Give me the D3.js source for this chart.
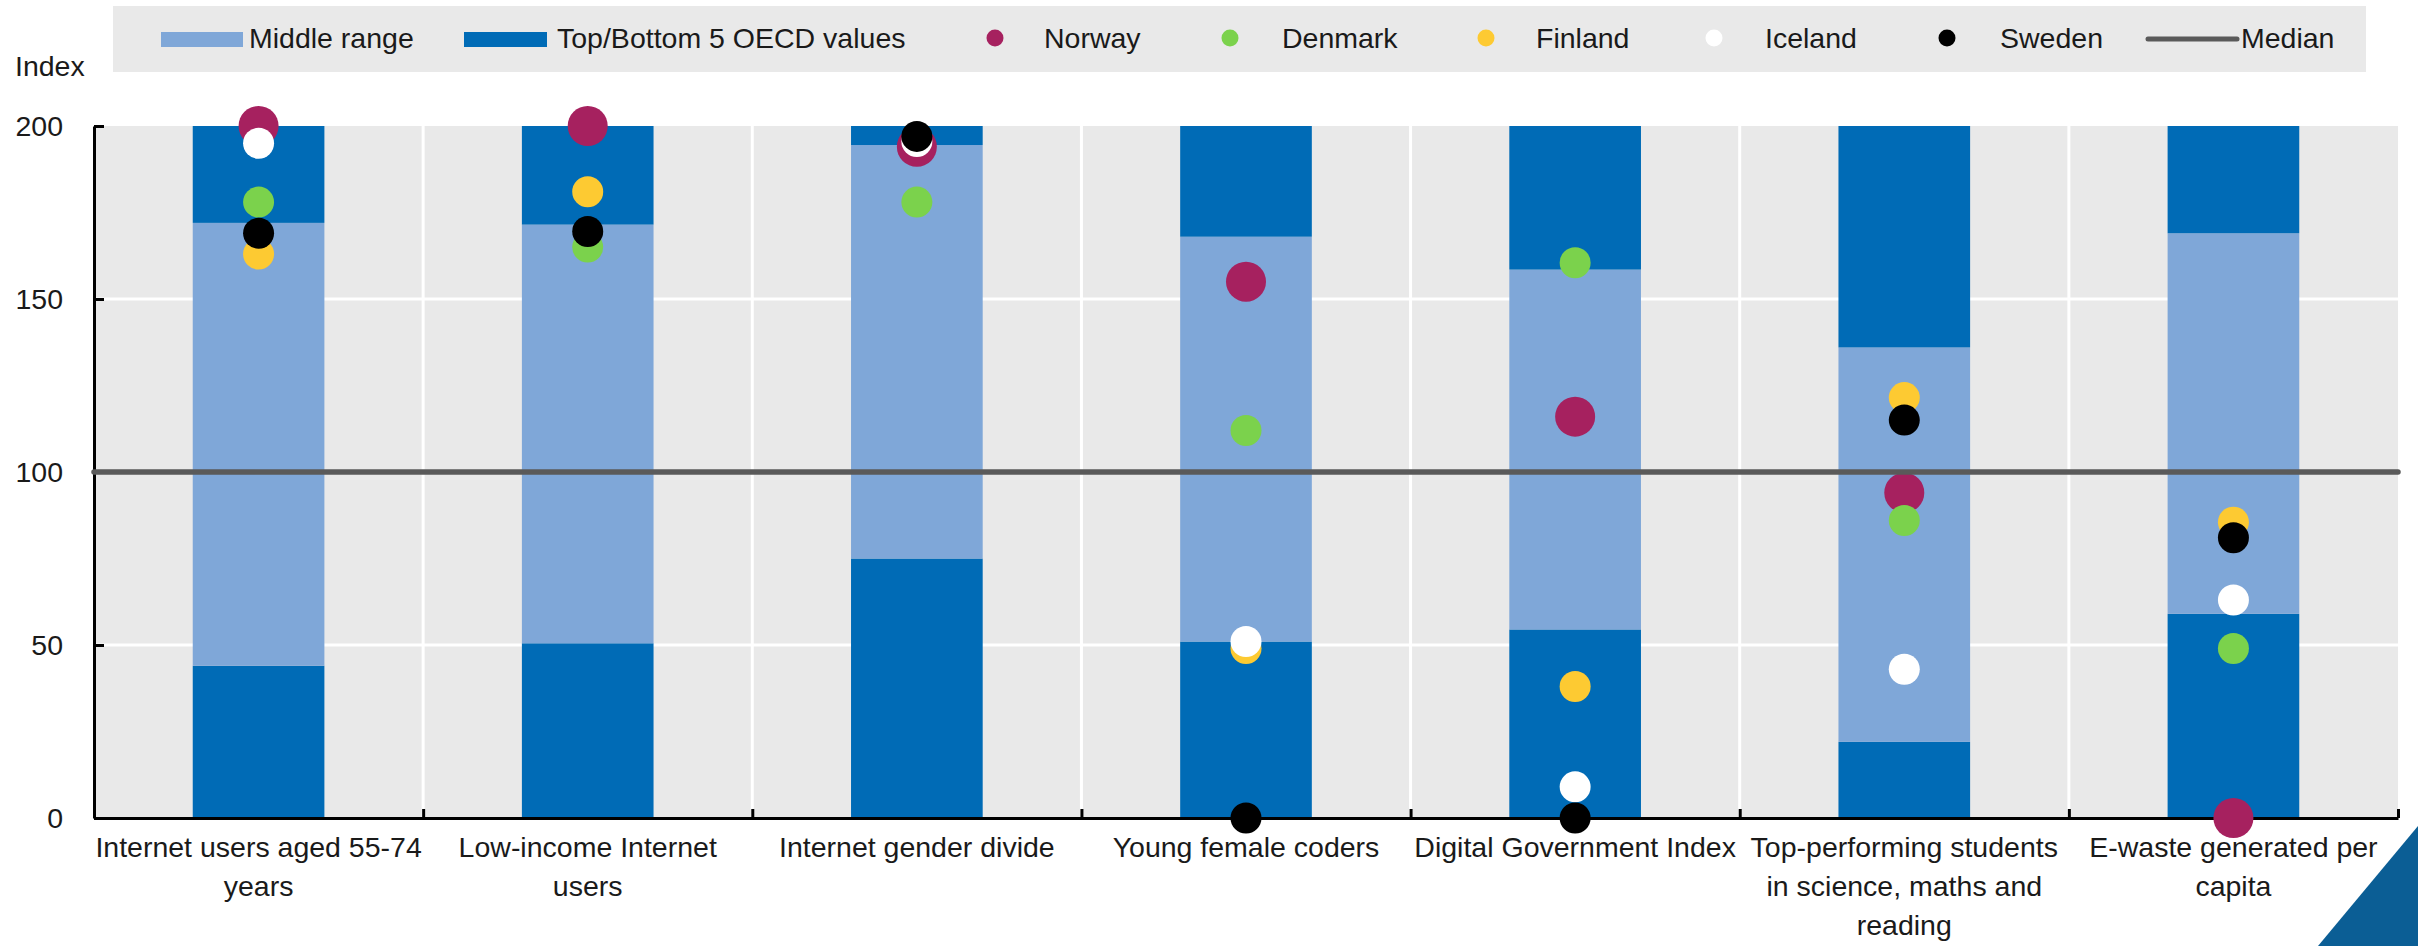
<!DOCTYPE html>
<html>
<head>
<meta charset="utf-8">
<script src="https://cdn.jsdelivr.net/npm/d3@7"></script>
<style>
  body { margin: 0; background: #fff; }
  svg { display: block; font-family: "Liberation Sans", Arial, sans-serif; }
</style>
</head>
<body>
<script>
// indicator labels, already split into lines as in the original
const categories = [
  ["Internet users aged 55-74", "years"],
  ["Low-income Internet", "users"],
  ["Internet gender divide"],
  ["Young female coders"],
  ["Digital Government Index"],
  ["Top-performing students", "in science, maths and", "reading"],
  ["E-waste generated per", "capita"]
];
// bottom 5 / top 5 thresholds (index, median = 100)
const lower = [44, 50.5, 75, 51, 54.5, 22, 59];
const upper = [172, 171.5, 194.5, 168, 158.5, 136, 169];
const topValue = 200;
const median = 100;

// country values (null = not shown)
const norway  = [200, 200, 194, 155, 116, 94, 0];
const denmark = [178, 165, 178, 112, 160.5, 86, 49];
const finland = [163, 181, null, 49, 38, 121.5, 85.5];
const iceland = [195, null, 195.5, 51, 9, 43, 63];
const sweden  = [169, 169.5, 197, 0, 0, 115, 81];

const yTicks = [0, 50, 100, 150, 200];

const countries = [
  {name: "Norway",  values: norway,  color: "#a6215f", r: 20},
  {name: "Denmark", values: denmark, color: "#7bd24c", r: 15.5},
  {name: "Finland", values: finland, color: "#fdca32", r: 15.5},
  {name: "Iceland", values: iceland, color: "#ffffff", r: 15.5},
  {name: "Sweden",  values: sweden,  color: "#000000", r: 15.5}
];

const light = "#7fa7d8", dark = "#006bb6", grey = "#e9e9e9", medianColor = "#5a5a5a";
const width = 2418, height = 946;
const fontSize = 28.5;

const svg = d3.select("body").append("svg")
    .attr("width", width)
    .attr("height", height);

const x = d3.scaleBand().domain(d3.range(categories.length)).range([94, 2398]);
const y = d3.scaleLinear().domain([0, 200]).range([818, 126]);
const xb = d3.scaleLinear().domain([0, categories.length]).range(x.range()); // band edges
const bw = x.bandwidth() * 0.4;

// plot background
svg.append("rect")
    .attr("x", x.range()[0]).attr("y", y(200))
    .attr("width", x.range()[1] - x.range()[0]).attr("height", y(0) - y(200))
    .attr("fill", grey);

// white grid
svg.append("g")
  .selectAll("line")
  .data([50, 150])
  .join("line")
    .attr("x1", x.range()[0]).attr("x2", x.range()[1])
    .attr("y1", d => y(d)).attr("y2", d => y(d))
    .attr("stroke", "#fff").attr("stroke-width", 3);

svg.append("g")
  .selectAll("line")
  .data(d3.range(1, categories.length))
  .join("line")
    .attr("x1", d => xb(d)).attr("x2", d => xb(d))
    .attr("y1", y(200)).attr("y2", y(0))
    .attr("stroke", "#fff").attr("stroke-width", 3);

// stacked bars: bottom 5, middle range, top 5
const segments = categories.flatMap((c, i) => [
  {i, from: 0, to: lower[i], color: dark},
  {i, from: lower[i], to: upper[i], color: light},
  {i, from: upper[i], to: topValue, color: dark}
]);

svg.append("g")
  .selectAll("rect")
  .data(segments)
  .join("rect")
    .attr("x", d => x(d.i) + (x.bandwidth() - bw) / 2)
    .attr("width", bw)
    .attr("y", d => y(d.to))
    .attr("height", d => y(d.from) - y(d.to))
    .attr("fill", d => d.color);

// axes
const yAxis = svg.append("g")
    .attr("transform", `translate(${x.range()[0]},0)`)
    .call(d3.axisLeft(y).tickValues(yTicks).tickSize(-10).tickSizeOuter(0).tickPadding(31));

const xAxis = svg.append("g")
    .attr("transform", `translate(0,${y(0)})`)
    .call(d3.axisBottom(xb).tickValues(d3.range(categories.length + 1)).tickSize(-9).tickSizeOuter(0).tickFormat(""));

[yAxis, xAxis].forEach(g => {
  g.selectAll("path, line").attr("stroke", "#000").attr("stroke-width", 3);
  g.selectAll("text")
      .attr("font-size", fontSize)
      .attr("font-family", "Liberation Sans, Arial, sans-serif")
      .attr("fill", "#1a1a1a");
});

// category labels
svg.append("g")
  .selectAll("text")
  .data(categories)
  .join("text")
    .attr("text-anchor", "middle")
    .attr("font-size", fontSize)
    .attr("fill", "#1a1a1a")
  .selectAll("tspan")
  .data((d, i) => d.map((line, k) => ({line, k, i})))
  .join("tspan")
    .attr("x", d => x(d.i) + x.bandwidth() / 2)
    .attr("y", d => 857 + d.k * 39)
    .text(d => d.line);

// country dots
svg.append("g")
  .selectAll("g")
  .data(countries)
  .join("g")
    .attr("fill", d => d.color)
  .selectAll("circle")
  .data(d => d.values.map((v, i) => ({v, i, r: d.r})).filter(p => p.v != null))
  .join("circle")
    .attr("cx", d => x(d.i) + x.bandwidth() / 2)
    .attr("cy", d => y(d.v))
    .attr("r", d => d.r);

// median line
svg.append("line")
    .attr("x1", x.range()[0]).attr("x2", x.range()[1])
    .attr("y1", y(median)).attr("y2", y(median))
    .attr("stroke", medianColor).attr("stroke-width", 5.5)
    .attr("stroke-linecap", "round");

// y title
svg.append("text")
    .attr("x", 15).attr("y", 76)
    .attr("font-size", fontSize)
    .attr("fill", "#1a1a1a")
    .text("Index");

// legend
const legend = svg.append("g");
legend.append("rect")
    .attr("x", 113).attr("y", 6).attr("width", 2366 - 113).attr("height", 66)
    .attr("fill", grey);

const legendItems = [
  {type: "rect", label: "Middle range", color: light, x0: 161, x1: 243, tx: 249},
  {type: "rect", label: "Top/Bottom 5 OECD values", color: dark, x0: 464, x1: 547, tx: 557},
  ...countries.map((c, k) => ({type: "dot", label: c.name, color: c.color,
      x0: [995, 1230, 1486, 1714, 1947][k], tx: [1044, 1282, 1536, 1765, 2000][k]})),
  {type: "line", label: "Median", color: medianColor, x0: 2148, x1: 2237, tx: 2241}
];

const li = legend.selectAll("g.item")
  .data(legendItems)
  .join("g")
    .attr("class", "item");

li.filter(d => d.type === "rect").append("rect")
    .attr("x", d => d.x0).attr("width", d => d.x1 - d.x0)
    .attr("y", 32).attr("height", 15)
    .attr("fill", d => d.color);

li.filter(d => d.type === "dot").append("circle")
    .attr("cx", d => d.x0).attr("cy", 38).attr("r", 8.5)
    .attr("fill", d => d.color);

li.filter(d => d.type === "line").append("line")
    .attr("x1", d => d.x0).attr("x2", d => d.x1)
    .attr("y1", 39).attr("y2", 39)
    .attr("stroke", d => d.color).attr("stroke-width", 5)
    .attr("stroke-linecap", "round");

li.append("text")
    .attr("x", d => d.tx).attr("y", 48)
    .attr("font-size", fontSize)
    .attr("fill", "#1a1a1a")
    .text(d => d.label);

// corner decoration
svg.append("path")
    .attr("d", `M2318,${height}L${width},826L${width},${height}Z`)
    .attr("fill", "#0b5e95");
</script>
</body>
</html>
